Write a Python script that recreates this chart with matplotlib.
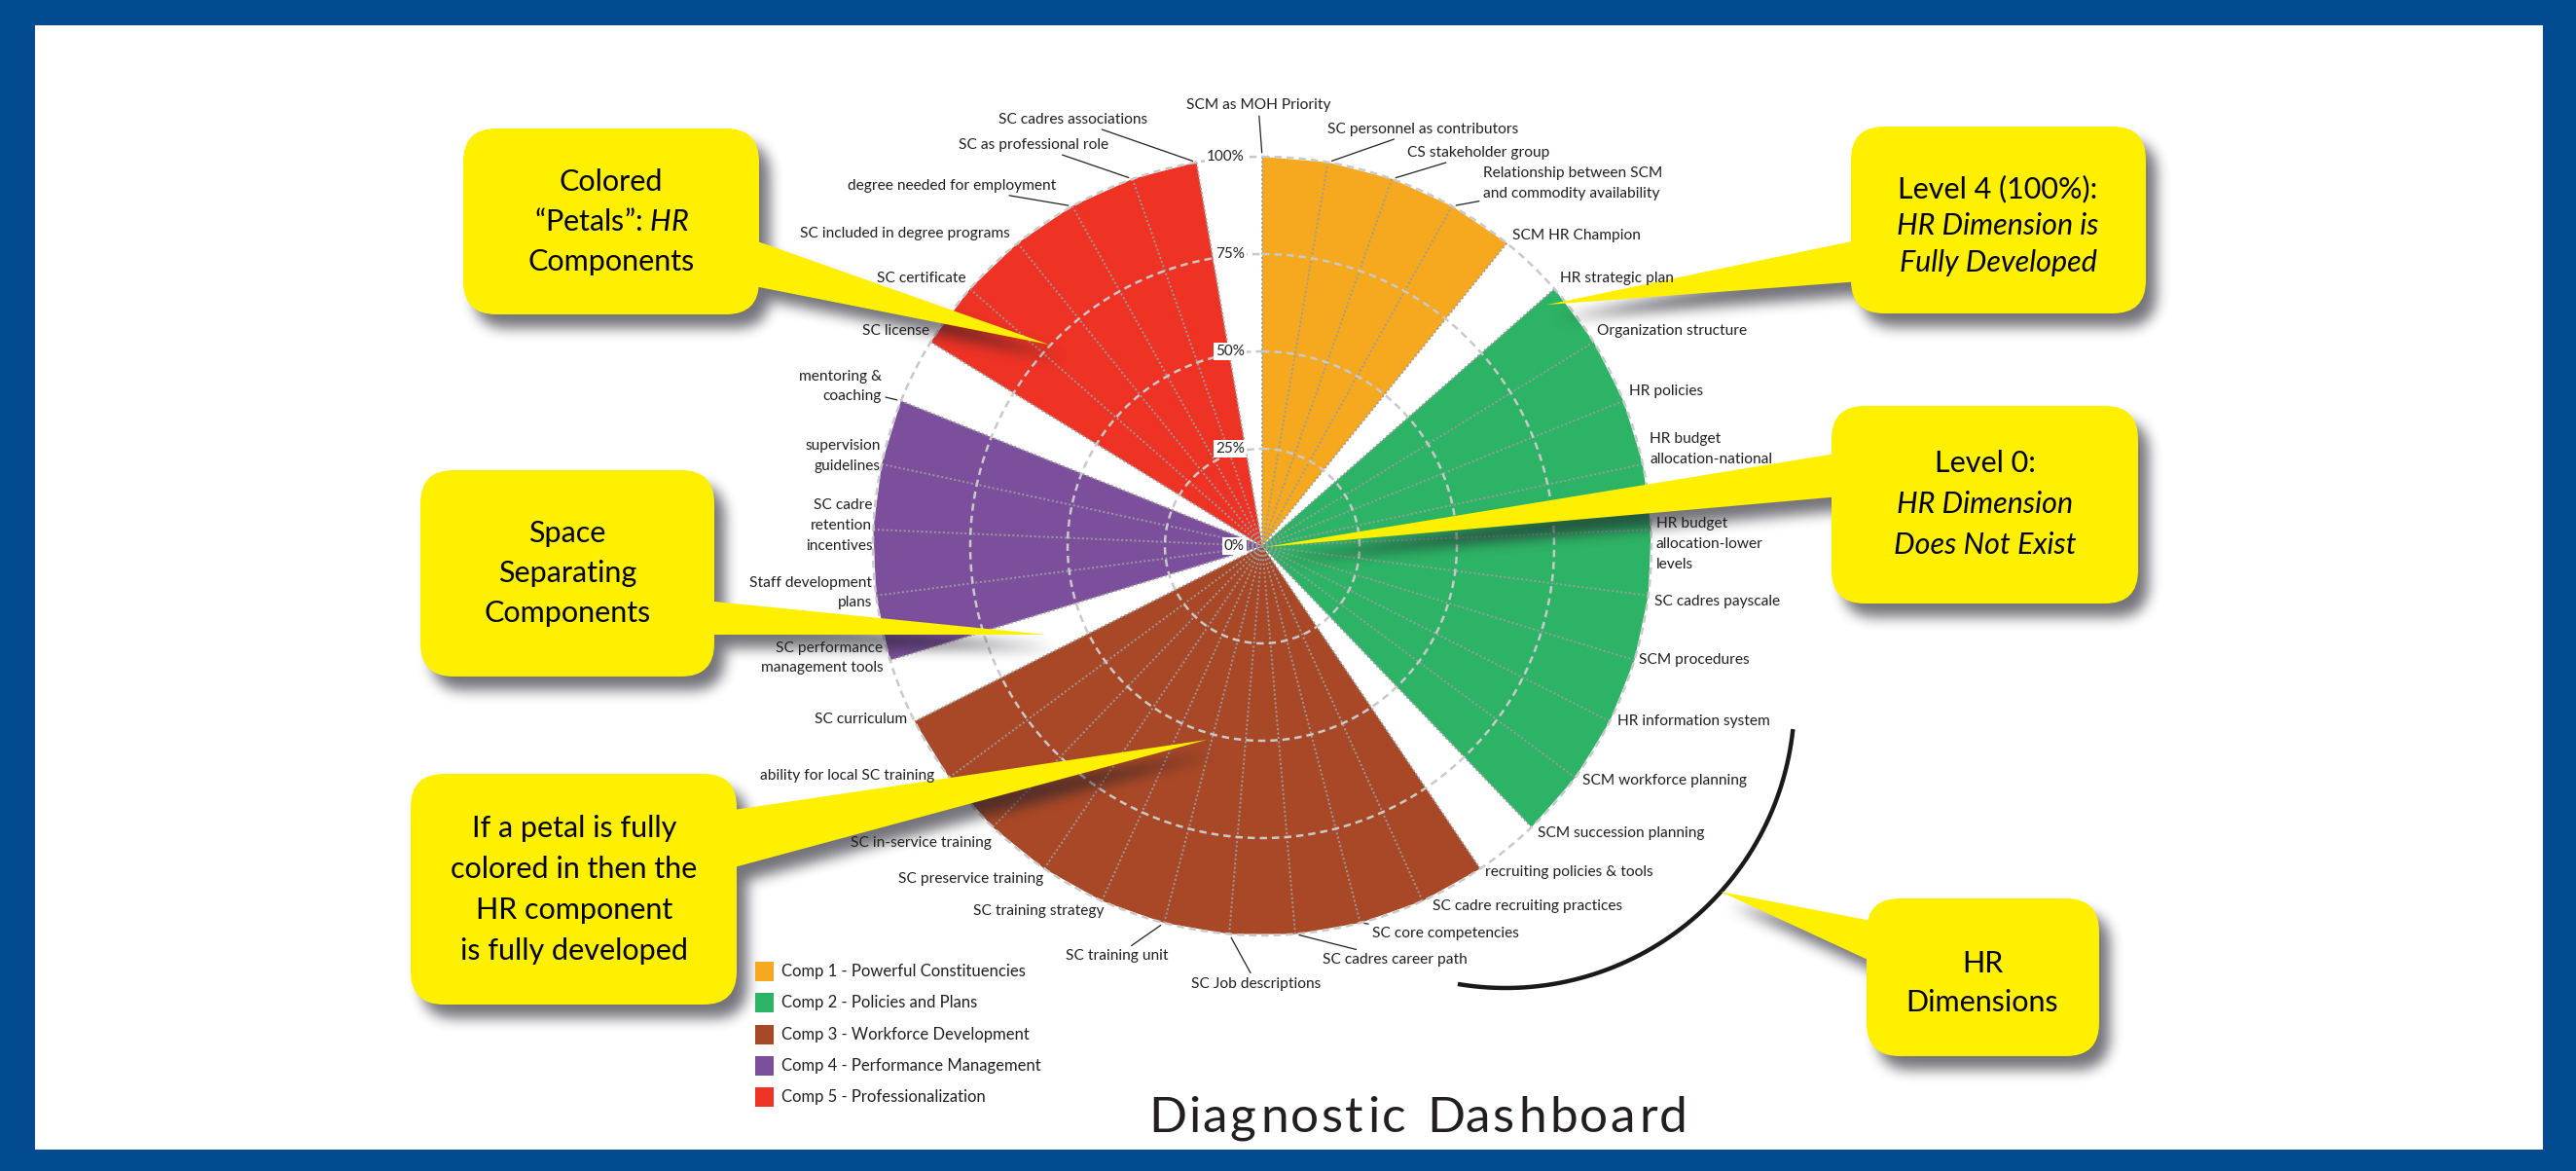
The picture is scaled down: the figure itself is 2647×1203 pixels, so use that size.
import numpy as np
import matplotlib
matplotlib.use("Agg")
import matplotlib.pyplot as plt
from matplotlib.patches import FancyBboxPatch, Polygon, Rectangle
from matplotlib.path import Path
from matplotlib.textpath import TextPath
from matplotlib.font_manager import FontProperties

plt.rcParams['font.family'] = ['Lato', 'DejaVu Sans']
plt.rcParams['mathtext.fontset'] = 'custom'
plt.rcParams['mathtext.rm'] = 'Lato'
plt.rcParams['mathtext.it'] = 'Lato:italic'

W, H, DPI = 2647, 1203, 100

# ---------------- data ----------------
component_names = ["Comp 1 - Powerful Constituencies", "Comp 2 - Policies and Plans",
                   "Comp 3 - Workforce Development", "Comp 4 - Performance Management",
                   "Comp 5 - Professionalization"]
component_colors = ['#F6A81F', '#2DB365', '#A94826', '#7C4F9C', '#EE3224']

comp1_dimensions = ["SCM as MOH Priority", "SC personnel as contributors", "CS stakeholder group",
                    "Relationship between SCM\nand commodity availability", "SCM HR Champion"]
comp1_levels = [100, 100, 100, 100, 100]

comp2_dimensions = ["HR strategic plan", "Organization structure", "HR policies",
                    "HR budget\nallocation-national", "HR budget\nallocation-lower\nlevels",
                    "SC cadres payscale", "SCM procedures", "HR information system",
                    "SCM workforce planning", "SCM succession planning"]
comp2_levels = [100, 100, 100, 100, 100, 100, 100, 100, 100, 100]

comp3_dimensions = ["recruiting policies & tools", "SC cadre recruiting practices", "SC core competencies",
                    "SC cadres career path", "SC Job descriptions", "SC training unit",
                    "SC training strategy", "SC preservice training", "SC in-service training",
                    "ability for local SC training", "SC curriculum"]
comp3_levels = [100, 100, 100, 100, 100, 100, 100, 100, 100, 100, 100]

comp4_dimensions = ["SC performance\nmanagement tools", "Staff development\nplans",
                    "SC cadre\nretention\nincentives", "supervision\nguidelines", "mentoring &\ncoaching"]
comp4_levels = [100, 100, 100, 100, 100]

comp5_dimensions = ["SC license", "SC certificate", "SC included in degree programs",
                    "degree needed for employment", "SC as professional role", "SC cadres associations"]
comp5_levels = [100, 100, 100, 100, 100, 100]

level_ticks = [0, 25, 50, 75, 100]
level_tick_labels = ["0%", "25%", "50%", "75%", "100%"]

title = "Diagnostic Dashboard"

# ---------------- layout / style ----------------
all_dims = comp1_dimensions + comp2_dimensions + comp3_dimensions + comp4_dimensions + comp5_dimensions
all_levels = comp1_levels + comp2_levels + comp3_levels + comp4_levels + comp5_levels
groups = [comp1_levels, comp2_levels, comp3_levels, comp4_levels, comp5_levels]
n = len(all_dims)
theta = np.arange(n) * 2 * np.pi / n

# label placement: (dx px, dy px (up), ha, leader)
label_style = [
    (-4, 53, 'center', True), (-1, 34, 'left', True), (16, 27, 'left', True), (32, 23, 'left', True),
    (6, 8, 'left', False),
    (6, 11, 'left', False), (3, 11, 'left', False), (6, 10, 'left', False), (7, 15, 'left', False),
    (5, -15, 'left', False), (6, -6, 'left', False), (5, 0, 'left', False), (8, 0, 'left', False),
    (7, -3, 'left', False), (6, -6, 'left', False),
    (5, -4, 'left', False), (10, -6, 'left', False), (12, -11, 'left', True), (28, -26, 'left', True),
    (28, -51, 'center', True), (4, -34, 'right', True), (2, -11, 'right', False), (-1, -11, 'right', False),
    (-1, -16, 'right', False), (-15, 2, 'right', False), (-8, 2, 'right', False),
    (-7, 2, 'right', False), (-4, 3, 'right', False), (-1, 4, 'right', False), (-1, 8, 'right', False),
    (-20, 15, 'right', True),
    (-1, 11, 'right', False), (-4, 11, 'right', False), (-8, 10, 'right', False), (-17, 21, 'right', True),
    (-25, 35, 'right', True), (-50, 44, 'right', True),
]

TXT = '#231F20'
LBL_FS = 11.2
fig = plt.figure(figsize=(W / DPI, H / DPI), dpi=DPI)
fig.patch.set_facecolor('#034B90')

bg = fig.add_axes([0, 0, 1, 1], zorder=0)
bg.set_xlim(0, W); bg.set_ylim(H, 0); bg.axis('off')
bg.add_patch(Rectangle((36, 26), 2613 - 36, 1181 - 26, facecolor='white', edgecolor='none'))

CX, CY, R = 1297, 561, 400
pax = fig.add_axes([(CX - R) / W, 1 - (CY + R) / H, 2 * R / W, 2 * R / H], projection='polar', zorder=1)
pax.set_theta_zero_location('N')
pax.set_theta_direction(-1)
pax.set_ylim(0, 100)
pax.set_facecolor('none')
pax.grid(False)
pax.set_xticks([]); pax.set_yticks([])
pax.spines['polar'].set_visible(False)

start = 0
for gi, lv in enumerate(groups):
    idx = np.arange(start, start + len(lv))
    th = np.r_[0.0, theta[idx], 0.0]
    rr = np.r_[0.0, np.array(lv, float), 0.0]
    pax.fill(th, rr, facecolor=component_colors[gi], edgecolor='none', zorder=2, clip_on=False)
    start += len(lv)

# spokes
for k in range(n):
    pax.plot([theta[k], theta[k]], [0, 100], color='#9C9C9C', lw=1.4, ls=(0, (1, 1.3)),
             zorder=3, clip_on=False)
# circles
circ = np.linspace(0, 2 * np.pi, 721)
for lv in level_ticks[1:]:
    pax.plot(circ, np.full_like(circ, lv), color='#C9C9C9', lw=1.8, ls=(0, (3, 2)),
             zorder=4, clip_on=False)

# ---------------- overlay: callouts, arc, legend, title, labels ----------------
ov = fig.add_axes([0, 0, 1, 1], zorder=3)
ov.set_xlim(0, W); ov.set_ylim(H, 0); ov.axis('off'); ov.patch.set_alpha(0)

YEL = '#FFF000'
callouts = [
    dict(box=(476, 132, 780, 323), base=[(770, 245), (770, 293)], tip=(1078, 354),
         center=(628, 228), gap=41,
         lines=[("Colored", 'normal'), ("“Petals”: $\\mathit{HR}$", 'normal'), ("Components", 'normal')]),
    dict(box=(432, 483, 734, 695), base=[(724, 617), (724, 652)], tip=(1075, 652),
         center=(583, 589), gap=41,
         lines=[("Space", 'normal'), ("Separating", 'normal'), ("Components", 'normal')]),
    dict(box=(422, 795, 757, 1032), base=[(747, 833), (747, 893)], tip=(1240, 760),
         center=(590, 914), gap=42,
         lines=[("If a petal is fully", 'normal'), ("colored in then the", 'normal'),
                ("HR component", 'normal'), ("is fully developed", 'normal')]),
    dict(box=(1902, 130, 2205, 322), base=[(1912, 246), (1912, 289)], tip=(1590, 313),
         center=(2053, 232), gap=38,
         lines=[("Level 4 (100%):", 'normal'), ("HR Dimension is", 'italic'), ("Fully Developed", 'italic')]),
    dict(box=(1882, 417, 2197, 620), base=[(1892, 465), (1892, 510)], tip=(1300, 562),
         center=(2040, 518), gap=42,
         lines=[("Level 0:", 'normal'), ("HR Dimension", 'italic'), ("Does Not Exist", 'italic')]),
    dict(box=(1918, 923, 2157, 1085), base=[(1928, 947), (1928, 990)], tip=(1768, 916),
         center=(2037, 1010), gap=40,
         lines=[("HR", 'normal'), ("Dimensions", 'normal')]),
]

# arc around dimensions
a = np.deg2rad(np.linspace(6, 99.5, 200))
ov.plot(1547 + 297 * np.cos(a), 718 + 297 * np.sin(a), color='#1A1A1A', lw=3.2,
        solid_capstyle='butt', zorder=0.5)

# shadows as blurred mask
paths = []
for c in callouts:
    x0, y0, x1, y1 = c['box']
    fb = FancyBboxPatch((x0, y0), x1 - x0, y1 - y0, boxstyle="round,pad=0,rounding_size=34")
    paths.append(fb.get_path())
    paths.append(Path([c['base'][0], c['tip'], c['base'][1], c['base'][0]]))
mask = np.zeros((H, W))
for p in paths:
    ex = p.get_extents()
    xs = np.arange(max(int(ex.x0) - 1, 0), min(int(ex.x1) + 2, W))
    ys = np.arange(max(int(ex.y0) - 1, 0), min(int(ex.y1) + 2, H))
    XX, YY = np.meshgrid(xs + 0.5, ys + 0.5)
    inside = p.contains_points(np.c_[XX.ravel(), YY.ravel()]).reshape(XX.shape)
    sub = mask[ys[0]:ys[-1] + 1, xs[0]:xs[-1] + 1]
    mask[ys[0]:ys[-1] + 1, xs[0]:xs[-1] + 1] = np.maximum(sub, inside.astype(float))
sdx, sdy = 11, 14
shifted = np.zeros_like(mask)
shifted[sdy:, sdx:] = mask[:-sdy, :-sdx]


def box_blur(arr, r):
    for axis in (0, 1):
        pad = [(0, 0), (0, 0)]
        pad[axis] = (r + 1, r)
        pp = np.pad(arr, pad, mode='constant')
        cs = np.cumsum(pp, axis=axis)
        if axis == 0:
            arr = (cs[2 * r + 1:, :] - cs[:-2 * r - 1, :]) / (2 * r + 1)
        else:
            arr = (cs[:, 2 * r + 1:] - cs[:, :-2 * r - 1]) / (2 * r + 1)
    return arr


bl = shifted
for _ in range(3):
    bl = box_blur(bl, 6)
shadow = np.zeros((H, W, 4))
shadow[..., 0] = 0.12; shadow[..., 1] = 0.12; shadow[..., 2] = 0.16
shadow[..., 3] = np.clip(bl, 0, 1) * 0.62
ov.imshow(shadow, extent=(0, W, H, 0), interpolation='bilinear', zorder=1, aspect='auto')
ov.set_xlim(0, W); ov.set_ylim(H, 0)

for c in callouts:
    x0, y0, x1, y1 = c['box']
    ov.add_patch(Polygon([c['base'][0], c['tip'], c['base'][1]], closed=True, facecolor=YEL,
                         edgecolor='none', zorder=2))
    ov.add_patch(FancyBboxPatch((x0, y0), x1 - x0, y1 - y0, boxstyle="round,pad=0,rounding_size=34",
                                facecolor=YEL, edgecolor='none', zorder=3))
    cx, cy = c['center']
    nl = len(c['lines'])
    for i, (txt, st) in enumerate(c['lines']):
        ov.text(cx, cy + (i - (nl - 1) / 2) * c['gap'], txt, ha='center', va='center', fontsize=22,
                style=st, color='black', zorder=4)

# radial level labels and dimension labels (placed from the polar data coordinates)
for lv, lab in zip(level_ticks, level_tick_labels):
    ov.annotate(lab, xy=(0, lv), xycoords=pax.transData, xytext=(-18, 0), textcoords='offset pixels',
                ha='right', va='center', fontsize=11, color=TXT, annotation_clip=False, zorder=1.5,
                bbox=dict(boxstyle='square,pad=0.12', fc='white', ec='none'))

for k, name in enumerate(all_dims):
    dx, dy, ha, leader = label_style[k]
    ap = None
    if leader:
        ap = dict(arrowstyle='-', color=TXT, lw=0.9, shrinkA=1, shrinkB=3)
    ov.annotate(name, xy=(theta[k], all_levels[k]), xycoords=pax.transData, xytext=(dx, dy),
                textcoords='offset pixels', ha=ha, va='center', multialignment=ha, fontsize=LBL_FS,
                color=TXT, annotation_clip=False, arrowprops=ap, zorder=5, linespacing=1.6)

# legend
for i, (nm, col) in enumerate(zip(component_names, component_colors)):
    yc = 998 + i * 32.3
    ov.add_patch(Rectangle((776, yc - 10), 19, 20, facecolor=col, edgecolor='none', zorder=2))
    ov.text(803, yc, nm, ha='left', va='center', fontsize=12.0, color=TXT, zorder=2)

# title with letter spacing
TFS = 37
fp = FontProperties(family=['Lato'])
size_px = TFS * DPI / 72.0


def ink_right(s):
    return TextPath((0, 0), s, size=size_px, prop=fp).get_extents().x1


tracking = 3.0
total = ink_right(title) + tracking * (len(title) - 1)
x_start = 1452 - total / 2
for i, ch in enumerate(title):
    if ch == ' ':
        continue
    ex = TextPath((0, 0), ch, size=size_px, prop=fp).get_extents()
    left = ink_right(title[:i + 1]) - (ex.x1 - ex.x0)
    ov.text(x_start + left + i * tracking, 1163, ch, ha='left', va='baseline', fontsize=TFS,
            color=TXT, zorder=2)

fig.savefig('out.png', dpi=DPI, facecolor=fig.get_facecolor())
